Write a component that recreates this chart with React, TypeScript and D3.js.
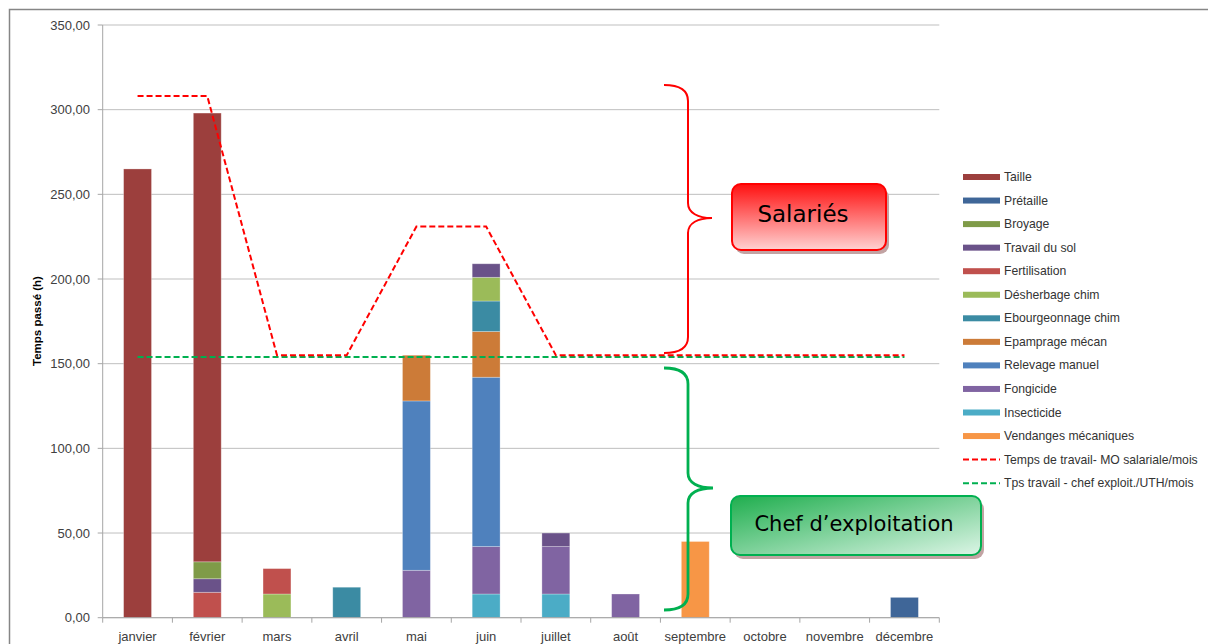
import React from 'react';
import * as d3 from 'd3';

const months = ['janvier', 'février', 'mars', 'avril', 'mai', 'juin', 'juillet', 'août', 'septembre', 'octobre', 'novembre', 'décembre'];

const taille = [265, 265, 0, 0, 0, 0, 0, 0, 0, 0, 0, 0];
const pretaille = [0, 0, 0, 0, 0, 0, 0, 0, 0, 0, 0, 12];
const broyage = [0, 10, 0, 0, 0, 0, 0, 0, 0, 0, 0, 0];
const travailSol = [0, 8, 0, 0, 0, 8, 8, 0, 0, 0, 0, 0];
const fertilisation = [0, 15, 15, 0, 0, 0, 0, 0, 0, 0, 0, 0];
const desherbage = [0, 0, 14, 0, 0, 14, 0, 0, 0, 0, 0, 0];
const ebourgeonnage = [0, 0, 0, 18, 0, 18, 0, 0, 0, 0, 0, 0];
const epamprage = [0, 0, 0, 0, 27, 27, 0, 0, 0, 0, 0, 0];
const relevage = [0, 0, 0, 0, 100, 100, 0, 0, 0, 0, 0, 0];
const fongicide = [0, 0, 0, 0, 28, 28, 28, 14, 0, 0, 0, 0];
const insecticide = [0, 0, 0, 0, 0, 14, 14, 0, 0, 0, 0, 0];
const vendanges = [0, 0, 0, 0, 0, 0, 0, 0, 45, 0, 0, 0];

const moSalariale = [308, 308, 155, 155, 231, 231, 155, 155, 155, 155, 155, 155];
const chefExploit = [154, 154, 154, 154, 154, 154, 154, 154, 154, 154, 154, 154];

const seriesNames = ['Taille', 'Prétaille', 'Broyage', 'Travail du sol', 'Fertilisation', 'Désherbage chim', 'Ebourgeonnage chim', 'Epamprage mécan', 'Relevage manuel', 'Fongicide', 'Insecticide', 'Vendanges mécaniques'];
const seriesValues = [taille, pretaille, broyage, travailSol, fertilisation, desherbage, ebourgeonnage, epamprage, relevage, fongicide, insecticide, vendanges];
const seriesColors = ['#9c3f3d', '#3f6698', '#7f9b48', '#6a5289', '#c0504d', '#9bbb59', '#3b8ba3', '#cc7b38', '#4f81bd', '#8064a2', '#4bacc6', '#f79646'];

const lineNames = ['Temps de travail- MO salariale/mois', 'Tps travail - chef exploit./UTH/mois'];
const lineColors = ['#ff0000', '#00b050'];

const yTicks = [0, 50, 100, 150, 200, 250, 300, 350];
const yTickLabels = ['0,00', '50,00', '100,00', '150,00', '200,00', '250,00', '300,00', '350,00'];

const FONT = '"Liberation Sans", Arial, sans-serif';
const BOX_FONT = '"DejaVu Sans", Verdana, sans-serif';

export default function App() {
  const W = 1208;
  const H = 644;
  const x0 = 102.7;
  const x1 = 939.3;

  const x = d3.scaleBand<string>().domain(months).range([x0, x1]).paddingInner(0.6).paddingOuter(0.3);
  const y = d3.scaleLinear().domain([0, 350]).range([617.7, 25]);
  const step = x.step();
  const cx = (m: string) => (x(m) as number) + x.bandwidth() / 2;

  const rows = months.map((m, i) => {
    const r: any = { month: m };
    seriesNames.forEach((s, k) => { r[s] = seriesValues[k][i]; });
    return r;
  });
  const keys = seriesNames.slice().reverse();
  const stacked = d3.stack<any>().keys(keys)(rows);
  const colorOf = (name: string) => seriesColors[seriesNames.indexOf(name)];

  const line = d3.line<number>().x((_, i) => cx(months[i])).y((v) => y(v));

  const legendX = 963;
  const legendY0 = 177;
  const legendStep = 23.55;

  const redBrace = 'M664,85 C678,85 688,89 688,101 L688,203 C688,213 698,218 712,218 C698,218 688,223 688,233 L688,337 C688,349 678,353 664,353';
  const greenBrace = 'M664,368 C678,368 688,372 688,384 L688,473 C688,483 698,488 713,488 C698,488 688,493 688,503 L688,594 C688,606 678,610 664,610';

  return (
    <svg width={W} height={H} style={{ position: 'absolute', left: 0, top: 0, background: '#fff' }}>
      <defs>
        <linearGradient id="redGrad" x1="0" y1="0" x2="0" y2="1">
          <stop offset="0" stopColor="#ff1010" />
          <stop offset="1" stopColor="#ffd2d2" />
        </linearGradient>
        <linearGradient id="greenGrad" x1="0" y1="0" x2="1" y2="1">
          <stop offset="0" stopColor="#1fae4e" />
          <stop offset="1" stopColor="#dcf5e6" />
        </linearGradient>
      </defs>
      <rect x={0} y={0} width={W} height={H} fill="#fff" />
      {/* outer frame */}
      <path d={`M9.5,${H + 5} L9.5,9.5 L${W + 5},9.5`} fill="none" stroke="#868686" strokeWidth={1.5} />

      {/* gridlines */}
      {yTicks.map((t) => (
        <line key={t} x1={x0} x2={x1} y1={y(t)} y2={y(t)} stroke="#bfbfbf" strokeWidth={1} />
      ))}
      {/* y axis */}
      <line x1={x0} x2={x0} y1={y(350)} y2={y(0)} stroke="#a6a6a6" strokeWidth={1} />
      {yTicks.map((t, i) => (
        <g key={'yt' + t}>
          <line x1={x0 - 5} x2={x0} y1={y(t)} y2={y(t)} stroke="#a6a6a6" />
          <text x={90} y={y(t) + 4.5} textAnchor="end" fontFamily={FONT} fontSize={13} fill="#404040">{yTickLabels[i]}</text>
        </g>
      ))}
      <text transform={`translate(41,321) rotate(-90)`} textAnchor="middle" fontFamily={FONT} fontSize={11.5} fontWeight="bold" fill="#000">Temps passé (h)</text>

      {/* bars */}
      {stacked.map((layer) => (
        <g key={layer.key} fill={colorOf(layer.key)}>
          {layer.map((d, i) => (d[1] - d[0] > 0 ? (
            <rect key={i} x={x(months[i])} width={x.bandwidth()} y={y(d[1])} height={y(d[0]) - y(d[1])} stroke="rgba(255,255,255,0.35)" strokeWidth={0.8} />
          ) : null))}
        </g>
      ))}

      {/* x axis */}
      <line x1={x0} x2={x1} y1={y(0)} y2={y(0)} stroke="#a6a6a6" />
      {d3.range(months.length + 1).map((i) => (
        <line key={'xt' + i} x1={x0 + i * step} x2={x0 + i * step} y1={y(0)} y2={y(0) + 5} stroke="#a6a6a6" />
      ))}
      {months.map((m) => (
        <text key={m} x={cx(m)} y={641} textAnchor="middle" fontFamily={FONT} fontSize={13} fill="#404040">{m}</text>
      ))}

      {/* lines */}
      <path d={line(chefExploit) || ''} fill="none" stroke={lineColors[1]} strokeWidth={2} strokeDasharray="6,3" />
      <path d={line(moSalariale) || ''} fill="none" stroke={lineColors[0]} strokeWidth={2} strokeDasharray="6,3" />

      {/* braces */}
      <path d={redBrace} fill="none" stroke="#ff0000" strokeWidth={2} />
      <path d={greenBrace} fill="none" stroke="#00b050" strokeWidth={2.8} />

      {/* Salariés box */}
      <rect x={735} y={188} width={154} height={66} rx={9} fill="#c2a3a3" />
      <rect x={732} y={184} width={154} height={66} rx={9} fill="url(#redGrad)" stroke="#ff0000" strokeWidth={2} />
      <text x={803} y={222} textAnchor="middle" fontFamily={BOX_FONT} fontSize={23} fill="#000">Salariés</text>

      {/* Chef box */}
      <rect x={734} y={500} width={250} height={59} rx={9} fill="#c2a3a3" />
      <rect x={731} y={496} width={250} height={59} rx={9} fill="url(#greenGrad)" stroke="#00b050" strokeWidth={2} />
      <text x={854} y={531} textAnchor="middle" fontFamily={BOX_FONT} fontSize={21} fill="#000">Chef d’exploitation</text>

      {/* legend */}
      {seriesNames.map((s, i) => (
        <g key={'lg' + s}>
          <rect x={legendX} y={legendY0 + i * legendStep - 3} width={37} height={6} fill={seriesColors[i]} />
          <text x={1004} y={legendY0 + i * legendStep + 4} fontFamily={FONT} fontSize={12.2} fill="#333">{s}</text>
        </g>
      ))}
      {lineNames.map((s, j) => {
        const yy = legendY0 + (seriesNames.length + j) * legendStep;
        return (
          <g key={'ll' + s}>
            <line x1={legendX} x2={1000} y1={yy} y2={yy} stroke={lineColors[j]} strokeWidth={2} strokeDasharray="6,3" />
            <text x={1004} y={yy + 4} fontFamily={FONT} fontSize={12.2} fill="#333">{s}</text>
          </g>
        );
      })}
    </svg>
  );
}
